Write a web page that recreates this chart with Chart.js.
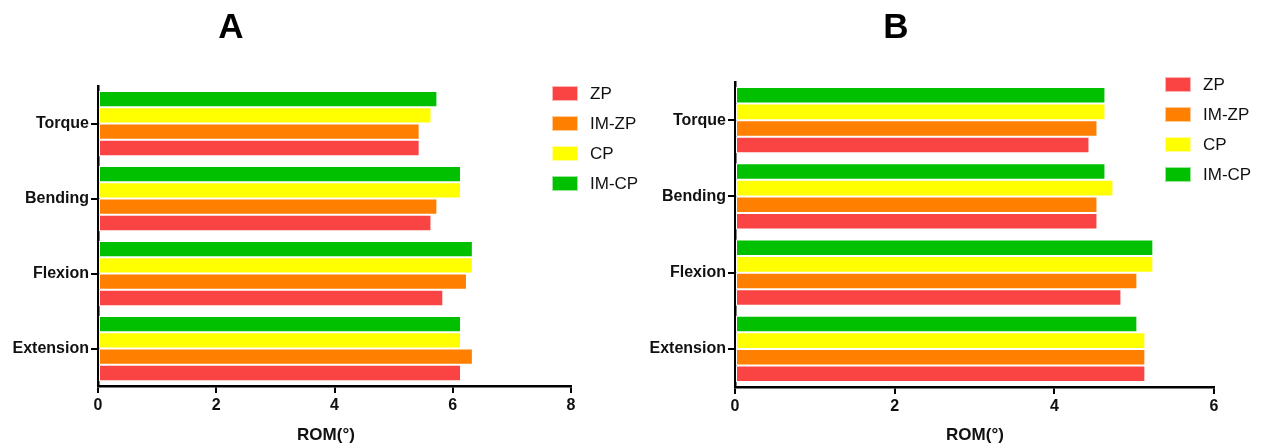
<!DOCTYPE html>
<html>
<head>
<meta charset="utf-8">
<script src="https://cdn.jsdelivr.net/npm/chart.js@4"></script>
<style>
  body { margin:0; background:#fff; width:1262px; height:448px; overflow:hidden; position:relative; font-family:"Liberation Sans", Arial, sans-serif; }
  .panel { position:absolute; top:0; }
  .ttl { position:absolute; top:6px; font-size:35px; font-weight:bold; color:#000; width:60px; text-align:center; margin-left:-30px; }
  .xt { position:absolute; top:425px; font-size:17px; font-weight:bold; color:#111; width:120px; text-align:center; margin-left:-60px; }
  .leg { position:absolute; font-size:17px; color:#111; white-space:nowrap; width:100px; }
  .leg div { position:relative; height:30px; }
  .leg span.box { position:absolute; left:0; width:26px; height:15px; top:-8px; box-sizing:border-box; border:1px solid rgba(255,255,255,.6); }
  .leg span.lab { position:absolute; left:38px; top:-10px; line-height:20px; }
</style>
</head>
<body>
<div class="panel" style="left:0;"><canvas id="chartA" width="620" height="448"></canvas></div>
<div class="panel" style="left:631px;"><canvas id="chartB" width="631" height="448"></canvas></div>

<div class="ttl" style="left:231px;">A</div>
<div class="ttl" style="left:896px;">B</div>
<div class="xt" style="left:326px;">ROM(°)</div>
<div class="xt" style="left:975px;">ROM(°)</div>
<div class="leg" id="legA" style="left:552px; top:94px;"></div>
<div class="leg" id="legB" style="left:1165px; top:85px;"></div>

<script>
// categories and series (ROM in degrees)
const categories = ['Torque', 'Bending', 'Flexion', 'Extension'];
const seriesNames = ['ZP', 'IM-ZP', 'CP', 'IM-CP'];
const seriesColors = ['#fa4444', '#ff8000', '#ffff00', '#00c000'];

// panel A
const zpA   = [5.44, 5.64, 5.84, 6.14];
const imzpA = [5.44, 5.74, 6.24, 6.34];
const cpA   = [5.64, 6.14, 6.34, 6.14];
const imcpA = [5.74, 6.14, 6.34, 6.14];
const ticksA = [0, 2, 4, 6, 8];

// panel B
const zpB   = [4.44, 4.54, 4.84, 5.14];
const imzpB = [4.54, 4.54, 5.04, 5.14];
const cpB   = [4.64, 4.74, 5.24, 5.14];
const imcpB = [4.64, 4.64, 5.24, 5.04];
const ticksB = [0, 2, 4, 6];

const tickFont = { family: '"Liberation Sans", Arial, sans-serif', size: 16, weight: 'bold' };

function makeChart(id, series, xTicks, geo){
  // bars top->bottom inside a group: IM-CP, CP, IM-ZP, ZP
  const order = [3, 2, 1, 0];
  const datasets = order.map(i => ({
    label: seriesNames[i],
    data: series[i],
    backgroundColor: seriesColors[i],
    borderColor: '#ffffff',
    borderWidth: 1,
    borderSkipped: false,
    barPercentage: 1,
    categoryPercentage: 0.87
  }));
  return new Chart(document.getElementById(id), {
    type: 'bar',
    data: { labels: categories, datasets },
    options: {
      indexAxis: 'y',
      responsive: false,
      animation: false,
      devicePixelRatio: 1,
      layout: { padding: { top: geo.top, right: geo.right, left: 0, bottom: 0 } },
      plugins: { legend: { display: false }, tooltip: { enabled: false } },
      scales: {
        x: {
          z: 1,
          min: xTicks[0], max: xTicks[xTicks.length - 1],
          afterBuildTicks: s => { s.ticks = xTicks.map(v => ({ value: v })); },
          afterFit: s => { s.height = geo.xh; },
          ticks: { color: '#111', font: tickFont, padding: 3 },
          grid: { drawOnChartArea: false, drawTicks: true, tickLength: 7, color: '#000', lineWidth: 2 },
          border: { display: true, color: '#000', width: 2.5 }
        },
        y: {
          z: 1,
          afterFit: s => { s.width = geo.yw; },
          ticks: { color: '#111', font: tickFont, padding: 2 },
          grid: { offset: false, drawOnChartArea: false, drawTicks: true, tickLength: 7, color: '#000', lineWidth: 2 },
          border: { display: true, color: '#000', width: 2.5 }
        }
      }
    }
  });
}

function buildLegend(id){
  const el = document.getElementById(id);
  seriesNames.forEach((n, i) => {
    const row = document.createElement('div');
    row.innerHTML = '<span class="box" style="background:' + seriesColors[i] + '"></span><span class="lab">' + n + '</span>';
    el.appendChild(row);
  });
}

makeChart('chartA', [zpA, imzpA, cpA, imcpA], ticksA, { top: 86, right: 49, xh: 62, yw: 98 });
makeChart('chartB', [zpB, imzpB, cpB, imcpB], ticksB, { top: 82, right: 48, xh: 61, yw: 104 });
buildLegend('legA');
buildLegend('legB');
</script>
</body>
</html>
